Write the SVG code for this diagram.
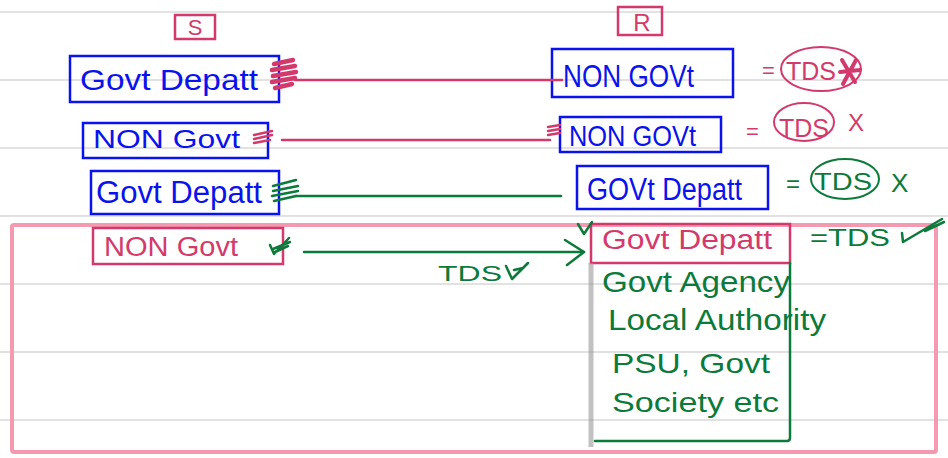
<svg xmlns="http://www.w3.org/2000/svg" width="948" height="458" viewBox="0 0 948 458">
<style>
.rule{stroke:#d9d9d9;stroke-width:1.5}
.blue{fill:none;stroke:#0a12ee;stroke-width:2.5}
.pinkbox{fill:none;stroke:#d33a6c;stroke-width:2.5}
.tb{fill:#0a12ee;font-family:"Liberation Sans",Arial,sans-serif}
.tp{fill:#d33a6c;font-family:"Liberation Sans",Arial,sans-serif}
.tg{fill:#0b7a3a;font-family:"Liberation Sans",Arial,sans-serif}
.pl{stroke:#d33a6c;stroke-width:2.5;fill:none;stroke-linecap:round}
.gl{stroke:#0b7a3a;stroke-width:2.5;fill:none;stroke-linecap:round;stroke-linejoin:round}
</style>
<rect width="948" height="458" fill="#ffffff"/>
<g id="rules">
<line class="rule" x1="0" y1="12" x2="948" y2="12"/>
<line class="rule" x1="0" y1="80" x2="948" y2="80"/>
<line class="rule" x1="0" y1="148" x2="948" y2="148"/>
<line class="rule" x1="0" y1="216" x2="948" y2="216"/>
<line class="rule" x1="0" y1="284" x2="948" y2="284"/>
<line class="rule" x1="0" y1="352" x2="948" y2="352"/>
<line class="rule" x1="0" y1="420" x2="948" y2="420"/>
</g>
<g id="highlight">
<rect x="12" y="225" width="924" height="227" rx="2" fill="none" stroke="#f39ab0" stroke-width="4"/>
</g>
<g id="header-S">
<rect x="175" y="15" width="40" height="24" class="pinkbox" stroke-width="2"/>
<text x="195" y="35" class="tp" font-size="22" text-anchor="middle">S</text>
</g>
<g id="header-R">
<rect x="618" y="7" width="44" height="28" class="pinkbox" stroke-width="2"/>
<text x="642" y="31" class="tp" font-size="24" text-anchor="middle">R</text>
</g>
<g id="s1">
<rect x="70" y="56" width="209" height="46" class="blue"/>
<text x="80" y="90" class="tb" font-size="30" textLength="178" lengthAdjust="spacingAndGlyphs">Govt Depatt</text>
</g>
<g id="r1">
<rect x="552" y="49" width="181" height="48" class="blue"/>
<text x="563" y="87" class="tb" font-size="32" textLength="131" lengthAdjust="spacingAndGlyphs">NON GOVt</text>
</g>
<g id="s2">
<rect x="83" y="123" width="185" height="35" class="blue"/>
<text x="93" y="148" class="tb" font-size="26" textLength="147" lengthAdjust="spacingAndGlyphs">NON Govt</text>
</g>
<g id="r2">
<rect x="560" y="117" width="161" height="35" class="blue"/>
<text x="569" y="146" class="tb" font-size="29" textLength="127" lengthAdjust="spacingAndGlyphs">NON GOVt</text>
</g>
<g id="s3">
<rect x="91" y="171" width="188" height="43" class="blue"/>
<text x="96" y="203" class="tb" font-size="31" textLength="166" lengthAdjust="spacingAndGlyphs">Govt Depatt</text>
</g>
<g id="r3">
<rect x="577" y="166" width="191" height="43" class="blue"/>
<text x="587" y="200" class="tb" font-size="31" textLength="155" lengthAdjust="spacingAndGlyphs">GOVt Depatt</text>
</g>
<g id="s4">
<rect x="93" y="228" width="190" height="36" class="pinkbox"/>
<text x="104" y="256" class="tp" font-size="27" textLength="134" lengthAdjust="spacingAndGlyphs">NON Govt</text>
</g>
<g id="r4">
<rect x="591" y="224" width="199" height="39" class="pinkbox"/>
<text x="602" y="249" class="tp" font-size="27" textLength="170" lengthAdjust="spacingAndGlyphs">Govt Depatt</text>
</g>
<g id="r4-list">
<line x1="591" y1="263" x2="591" y2="447" stroke="#9a9a9a" stroke-width="5" opacity="0.6"/>
<path class="gl" d="M790 263 V438 Q790 441 787 441 H595"/>
<text x="602" y="292" class="tg" font-size="29" textLength="188" lengthAdjust="spacingAndGlyphs">Govt Agency</text>
<text x="608" y="330" class="tg" font-size="29" textLength="218" lengthAdjust="spacingAndGlyphs">Local Authority</text>
<text x="612" y="373" class="tg" font-size="28" textLength="158" lengthAdjust="spacingAndGlyphs">PSU, Govt</text>
<text x="612" y="412" class="tg" font-size="27" textLength="167" lengthAdjust="spacingAndGlyphs">Society etc</text>
</g>
<g id="connectors">
<path d="M274 64 L293 60 M272 70 L295 66 M273 76 L296 72 M272 82 L295 78 M275 88 L292 84" stroke="#d33a6c" stroke-width="4.5" stroke-linecap="round"/>
<line class="pl" x1="295" y1="80" x2="562" y2="80"/>
<path d="M254 135 L272 131 M254 139 L272 135 M254 143 L270 140" class="pl" stroke-width="1.8"/>
<line class="pl" x1="282" y1="140" x2="550" y2="140"/>
<path d="M548 127 L560 125 M548 131 L560 129 M548 135 L560 133" class="pl" stroke-width="1.8"/>
<path d="M273 186 L296 180 M273 191 L298 186 M272 196 L298 191 M274 201 L296 196" class="gl" stroke-width="2"/>
<line class="gl" x1="296" y1="196" x2="561" y2="196"/>
<path d="M270 245 L274 254 L289 238 M273 249 L290 242 M275 252 L288 246" class="gl" stroke-width="1.8"/>
<line class="gl" x1="304" y1="252" x2="584" y2="252"/>
<path class="gl" d="M565 240 L584 252 L567 265"/>
<text x="438" y="281" class="tg" font-size="22" textLength="64" lengthAdjust="spacingAndGlyphs">TDS</text>
<path class="gl" d="M506 266 L512 279 L528 263 M514 270 L523 268"/>
<path class="gl" d="M578 224 L584 234 L592 222"/>
</g>
<g id="tds1">
<text x="762" y="78" class="tp" font-size="22">=</text>
<ellipse cx="821" cy="69" rx="40" ry="22" fill="none" stroke="#d33a6c" stroke-width="2"/>
<text x="786" y="80" class="tp" font-size="25" textLength="50" lengthAdjust="spacingAndGlyphs">TDS</text>
<path d="M842 60 L855 82 M856 60 L843 84 M840 72 L860 70" stroke="#d33a6c" stroke-width="4" stroke-linecap="round"/>
</g>
<g id="tds2">
<text x="746" y="139" class="tp" font-size="22">=</text>
<ellipse cx="804" cy="122" rx="30" ry="19" fill="none" stroke="#d33a6c" stroke-width="2"/>
<text x="779" y="137" class="tp" font-size="26" textLength="50" lengthAdjust="spacingAndGlyphs">TDS</text>
<text x="848" y="131" class="tp" font-size="24">X</text>
</g>
<g id="tds3">
<text x="786" y="192" class="tg" font-size="24">=</text>
<ellipse cx="845" cy="179" rx="34" ry="20" fill="none" stroke="#0b7a3a" stroke-width="2"/>
<text x="814" y="190" class="tg" font-size="24" textLength="58" lengthAdjust="spacingAndGlyphs">TDS</text>
<text x="891" y="192" class="tg" font-size="26">X</text>
</g>
<g id="tds4">
<text x="810" y="246" class="tg" font-size="24" textLength="80" lengthAdjust="spacingAndGlyphs">=TDS</text>
<path class="gl" d="M902 233 L903 242 Q920 232 942 219 M925 231 L944 222"/>
</g>
</svg>
